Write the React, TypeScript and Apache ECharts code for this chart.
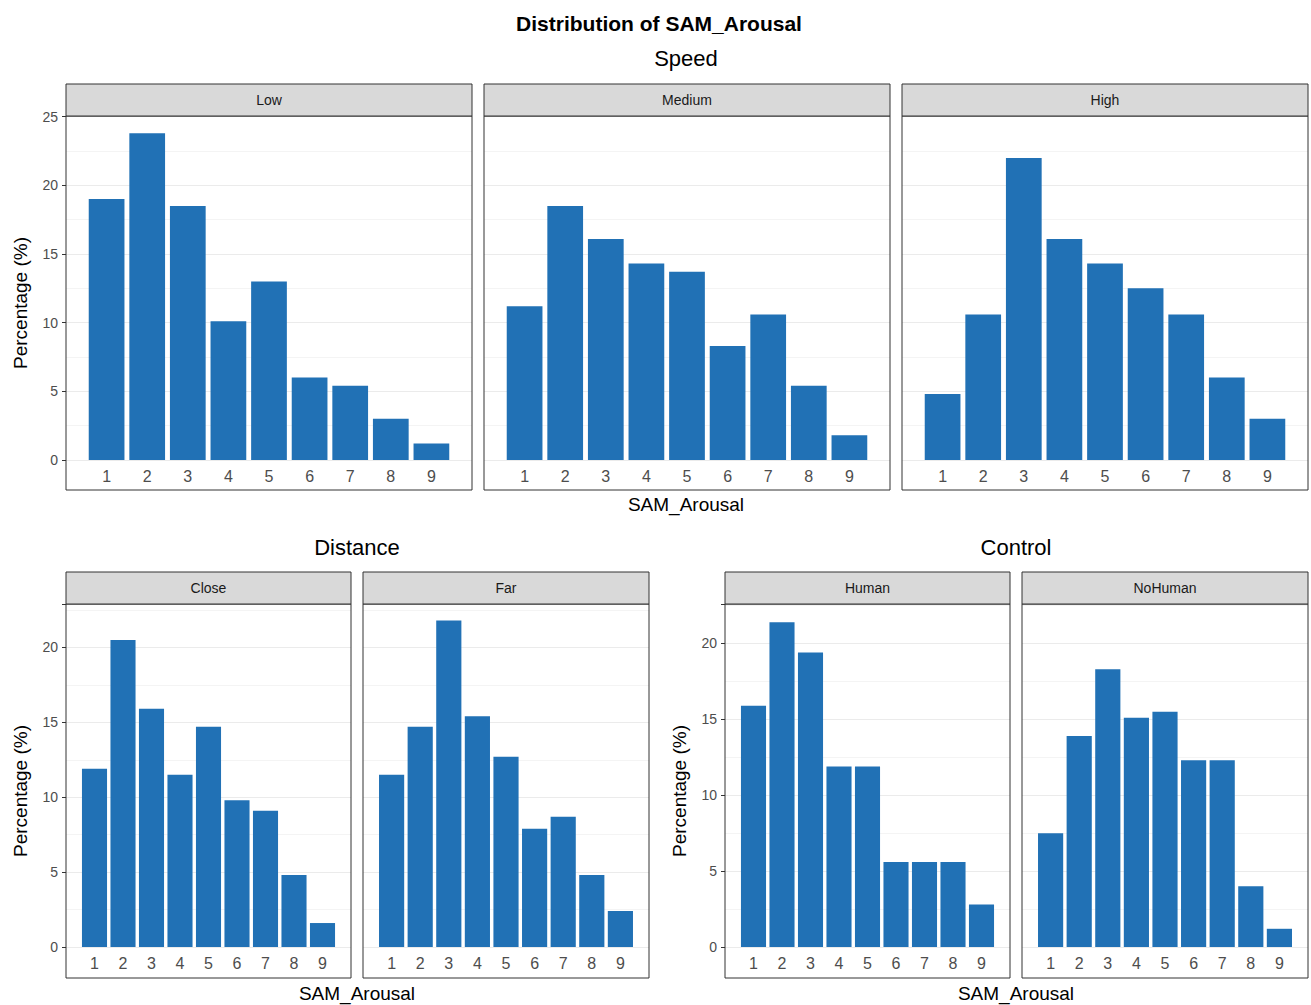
import { useEffect, useRef } from 'react';
import * as echarts from 'echarts';

const scores = [1, 2, 3, 4, 5, 6, 7, 8, 9];
const speedLow = [19, 23.8, 18.5, 10.1, 13, 6, 5.4, 3, 1.2];
const speedMedium = [11.2, 18.5, 16.1, 14.3, 13.7, 8.3, 10.6, 5.4, 1.8];
const speedHigh = [4.8, 10.6, 22, 16.1, 14.3, 12.5, 10.6, 6, 3];
const distClose = [11.9, 20.5, 15.9, 11.5, 14.7, 9.8, 9.1, 4.8, 1.6];
const distFar = [11.5, 14.7, 21.8, 15.4, 12.7, 7.9, 8.7, 4.8, 2.4];
const ctrlHuman = [15.9, 21.4, 19.4, 11.9, 11.9, 5.6, 5.6, 5.6, 2.8];
const ctrlNoHuman = [7.5, 13.9, 18.3, 15.1, 15.5, 12.3, 12.3, 4, 1.2];

// panel boxes: x0, x1, stripTop, plotTop, zeroY, plotBottom, ymax
const panels = [
  { name: 'Low', data: speedLow, x0: 66, x1: 472, st: 84, top: 116, zero: 460, bot: 490, ymax: 25.05, yLabels: true },
  { name: 'Medium', data: speedMedium, x0: 484, x1: 890, st: 84, top: 116, zero: 460, bot: 490, ymax: 25.05, yLabels: false },
  { name: 'High', data: speedHigh, x0: 902, x1: 1308, st: 84, top: 116, zero: 460, bot: 490, ymax: 25.05, yLabels: false },
  { name: 'Close', data: distClose, x0: 66, x1: 351, st: 572, top: 604, zero: 947, bot: 978, ymax: 22.9, yLabels: true },
  { name: 'Far', data: distFar, x0: 363, x1: 649, st: 572, top: 604, zero: 947, bot: 978, ymax: 22.9, yLabels: false },
  { name: 'Human', data: ctrlHuman, x0: 725, x1: 1010, st: 572, top: 604, zero: 947, bot: 978, ymax: 22.6, yLabels: true },
  { name: 'NoHuman', data: ctrlNoHuman, x0: 1022, x1: 1308, st: 572, top: 604, zero: 947, bot: 978, ymax: 22.6, yLabels: false },
];

const W = 1311;
const H = 1005;
const font = 'Liberation Sans, Arial, sans-serif';

export default function App() {
  const ref = useRef<HTMLDivElement>(null);

  useEffect(() => {
    if (!ref.current) return;
    const chart = echarts.init(ref.current, null, { renderer: 'svg' });

    const grids: any[] = [];
    const xAxes: any[] = [];
    const yAxes: any[] = [];
    const series: any[] = [];
    const graphics: any[] = [];

    panels.forEach((p, i) => {
      const w = p.x1 - p.x0;
      grids.push({ left: p.x0, top: p.top, width: w, height: p.zero - p.top });
      xAxes.push({
        type: 'value',
        gridIndex: i,
        min: 0,
        max: 10,
        interval: 1,
        axisLine: { show: false },
        axisTick: { show: false },
        splitLine: { show: false },
        axisLabel: {
          color: '#4d4d4d',
          fontSize: 16,
          fontFamily: font,
          margin: 8,
          formatter: (v: number) => (v >= 1 && v <= 9 ? String(v) : ''),
        },
      });
      yAxes.push({
        type: 'value',
        gridIndex: i,
        min: 0,
        max: p.ymax,
        interval: 5,
        axisLine: { show: false },
        axisTick: { show: p.yLabels, length: 4, lineStyle: { color: '#333' } },
        axisLabel: {
          show: p.yLabels,
          color: '#4d4d4d',
          fontSize: 14,
          fontFamily: font,
          margin: 8,
          formatter: (v: number) => (Math.abs(v - Math.round(v / 5) * 5) < 0.1 ? String(Math.round(v)) : ''),
        },
        splitLine: { show: true, lineStyle: { color: '#ebebeb', width: 1 } },
        minorTick: { show: false, splitNumber: 2 },
        minorSplitLine: { show: true, lineStyle: { color: '#f4f4f4', width: 1 } },
      });
      series.push({
        type: 'bar',
        xAxisIndex: i,
        yAxisIndex: i,
        data: scores.map((s, k) => [s, p.data[k]]),
        barWidth: (w / 10) * 0.88,
        itemStyle: { color: '#2171b5' },
        silent: true,
      });
      graphics.push({
        type: 'rect',
        shape: { x: p.x0, y: p.top, width: w, height: p.bot - p.top },
        style: { fill: 'none', stroke: '#333', lineWidth: 1 },
        z: 10,
      });
      graphics.push({
        type: 'rect',
        shape: { x: p.x0, y: p.st, width: w, height: p.top - p.st },
        style: { fill: '#d9d9d9', stroke: '#333', lineWidth: 1 },
        z: 10,
      });
      graphics.push({
        type: 'text',
        x: p.x0 + w / 2,
        y: (p.st + p.top) / 2,
        style: { text: p.name, fill: '#1a1a1a', fontSize: 14, fontFamily: font, align: 'center', verticalAlign: 'middle' },
        z: 11,
      });
    });

    const txt = (text: string, x: number, y: number, size: number, weight = 'normal', rotation = 0) => ({
      type: 'text',
      x,
      y,
      rotation,
      style: { text, fill: '#000', fontSize: size, fontWeight: weight, fontFamily: font, align: 'center', verticalAlign: 'middle' },
      z: 11,
    });

    graphics.push(txt('Distribution of SAM_Arousal', 659, 23, 21, 'bold'));
    graphics.push(txt('Speed', 686, 58, 22));
    graphics.push(txt('SAM_Arousal', 686, 504, 19));
    graphics.push(txt('Distance', 357, 547, 22));
    graphics.push(txt('SAM_Arousal', 357, 993, 19));
    graphics.push(txt('Control', 1016, 547, 22));
    graphics.push(txt('SAM_Arousal', 1016, 993, 19));
    graphics.push(txt('Percentage (%)', 20, 303, 19, 'normal', Math.PI / 2));
    graphics.push(txt('Percentage (%)', 20, 791, 19, 'normal', Math.PI / 2));
    graphics.push(txt('Percentage (%)', 679, 791, 19, 'normal', Math.PI / 2));

    chart.setOption({
      animation: false,
      backgroundColor: '#fff',
      grid: grids,
      xAxis: xAxes,
      yAxis: yAxes,
      series,
      graphic: graphics,
    });

    return () => chart.dispose();
  }, []);

  return <div ref={ref} style={{ position: 'absolute', left: 0, top: 0, width: W, height: H }} />;
}
